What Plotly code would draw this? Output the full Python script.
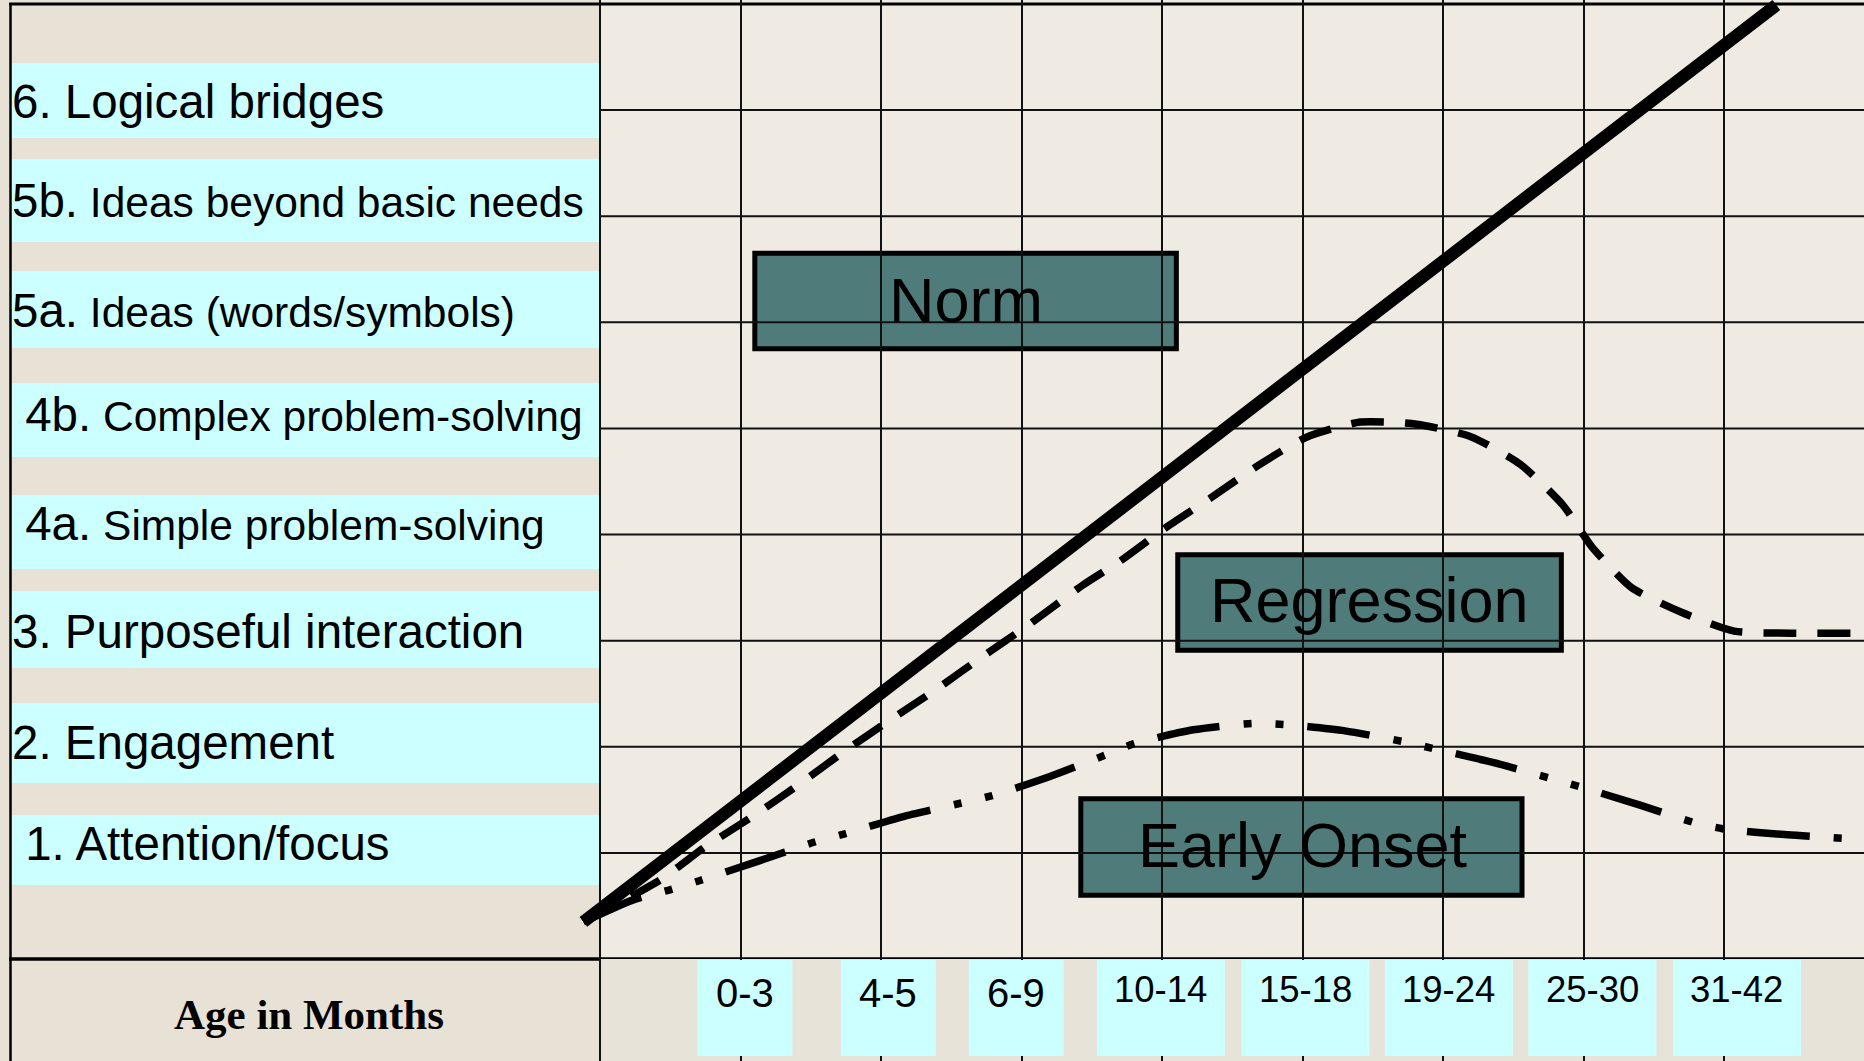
import plotly.graph_objects as go

W, H = 1864, 1061

# ---------------- data ----------------
level_labels = ["6. Logical bridges", "5b. Ideas beyond basic needs", "5a. Ideas (words/symbols)",
                "4b. Complex problem-solving", "4a. Simple problem-solving",
                "3. Purposeful interaction", "2. Engagement", "1. Attention/focus"]
age_bins = ["0-3", "4-5", "6-9", "10-14", "15-18", "19-24", "25-30", "31-42"]

norm_x = [-0.12, 8.37]
norm_y = [0.35, 8.99]

regression_x = [-0.12, 0.42, 0.75, 1.08, 1.42, 1.73, 2.06, 2.39, 2.72, 3.05, 3.43, 3.70, 4.03, 4.35,
                4.68, 5.03, 5.41, 5.81, 6.20, 6.55, 6.85, 7.06, 7.34, 7.69, 8.07, 8.47, 9.00]
regression_y = [0.35, 0.74, 1.06, 1.34, 1.65, 1.95, 2.25, 2.54, 2.85, 3.15, 3.52, 3.75, 4.07, 4.35,
                4.65, 4.92, 5.06, 5.04, 4.92, 4.66, 4.28, 3.88, 3.50, 3.27, 3.09, 3.07, 3.07]

early_x = [-0.12, 0.23, 0.49, 0.71, 1.12, 1.52, 1.74, 2.15, 2.57, 2.79, 3.20, 3.59, 3.80, 4.22,
           4.64, 4.87, 5.30, 5.71, 5.94, 6.36, 6.77, 6.98, 7.40, 7.80, 8.02, 8.45, 8.92]
early_y = [0.35, 0.555, 0.65, 0.74, 0.92, 1.10, 1.18, 1.34, 1.47, 1.54, 1.72, 1.92, 2.03, 2.16,
           2.22, 2.21, 2.15, 2.05, 1.98, 1.85, 1.70, 1.62, 1.45, 1.28, 1.22, 1.17, 1.13]

series_names = ["Norm", "Regression", "Early Onset"]

level_rows = list(range(1, 9))     # horizontal grid rows
age_cols = list(range(0, 9))       # vertical grid columns

# ---------------- layout constants ----------------
X0PX, XSTEP = 600.26, 140.51      # pixel of x=0, pixels per age column
Y0PX, YSTEP = 959.0, 106.11       # pixel of y=0, pixels per level row
XR = [-X0PX / XSTEP, (W - X0PX) / XSTEP]
YR = [-(H - Y0PX) / YSTEP, Y0PX / YSTEP]

def pxx(p):
    return p / W

def pxy(p):
    return 1 - p / H

LEFT_BG = "#E7E1D6"
GRID_BG = "#EFEBE3"
BOTTOM_BG = "#E8E3D9"
CYAN = "#CCFFFF"
TEAL = "#4F7B7B"
GRID = "#111111"
FONT = "Liberation Sans, Arial, sans-serif"

# left label boxes (pixel top, bottom) and text centre
label_box = [(63, 138), (159, 242), (271, 348), (383, 457), (495, 569), (591, 668), (703, 783), (815, 885)]
label_text_cy = [101.5, 200.5, 310.5, 414.5, 523.5, 631, 742.5, 843]
label_small_rest = [False, True, True, True, True, False, False, False]
label_indent = [False, False, False, True, True, False, False, True]
BIG, SMALL = 47.5, 42.5

# age label boxes
age_pos = [1.03, 2.05, 2.96, 3.99, 5.02, 6.04, 7.06, 8.09]
age_box_w = [95, 95, 95, 128, 128, 128, 128, 128]
age_font = [40, 40, 40, 36.5, 36.5, 36.5, 36.5, 36.5]
age_text_cy = [993, 993, 993, 989.5, 989.5, 989.5, 989.5, 989.5]

# series name boxes in data coords (x0, x1, y0, y1)
name_box = [(1.10, 4.10, 5.75, 6.65), (4.11, 6.84, 2.91, 3.81), (3.42, 6.56, 0.60, 1.51)]
name_text = [(2.60, 6.21), (5.475, 3.38), (5.0, 1.07)]

fig = go.Figure()

fig.add_trace(go.Scatter(x=norm_x, y=norm_y, mode="lines", name=series_names[0],
                         line=dict(color="black", width=12.5), hoverinfo="skip"))
fig.add_trace(go.Scatter(x=regression_x, y=regression_y, mode="lines", name=series_names[1],
                         line=dict(color="black", width=7.5, dash="33px,21px", shape="spline", smoothing=0.6),
                         hoverinfo="skip"))
fig.add_trace(go.Scatter(x=early_x, y=early_y, mode="lines", name=series_names[2],
                         line=dict(color="black", width=7.5, dash="63px,24px,8px,24px,8px,24px",
                                   shape="spline", smoothing=0.6),
                         hoverinfo="skip"))

shapes = []
# bottom row background in the grid area
shapes.append(dict(type="rect", xref="x", yref="y", x0=0, x1=XR[1], y0=YR[0], y1=0,
                   fillcolor=BOTTOM_BG, line=dict(width=0), layer="below"))
# left panel background
shapes.append(dict(type="rect", xref="paper", yref="paper", x0=0, x1=pxx(600), y0=0, y1=1,
                   fillcolor=LEFT_BG, line=dict(width=0), layer="below"))
# cyan label boxes
for (t, b) in label_box:
    shapes.append(dict(type="rect", xref="paper", yref="paper", x0=pxx(11), x1=pxx(600),
                       y0=pxy(b), y1=pxy(t), fillcolor=CYAN, line=dict(width=0), layer="below"))
# teal name boxes (below the grid lines)
for (x0, x1, y0, y1) in name_box:
    shapes.append(dict(type="rect", xref="x", yref="y", x0=x0, x1=x1, y0=y0, y1=y1,
                       fillcolor=TEAL, line=dict(color="black", width=5), layer="below"))
# horizontal grid rows (only across the grid area)
for k in level_rows:
    shapes.append(dict(type="line", xref="x", yref="y", x0=0, x1=XR[1], y0=k, y1=k,
                       line=dict(color=GRID, width=2), layer="below"))
# frame lines
shapes.append(dict(type="line", xref="paper", yref="y", x0=pxx(9), x1=1, y0=9, y1=9,
                   line=dict(color="black", width=3), layer="below"))
shapes.append(dict(type="line", xref="paper", yref="y", x0=pxx(9), x1=1, y0=0, y1=0,
                   line=dict(color="black", width=3.5), layer="below"))
shapes.append(dict(type="line", xref="paper", yref="paper", x0=pxx(10.5), x1=pxx(10.5), y0=0, y1=pxy(3),
                   line=dict(color="black", width=2.5), layer="below"))
# age label boxes (cover the vertical grid lines)
for c, w in zip(age_pos, age_box_w):
    shapes.append(dict(type="rect", xref="x", yref="y", x0=c - w / 2 / XSTEP, x1=c + w / 2 / XSTEP,
                       y0=(Y0PX - 1056) / YSTEP, y1=(Y0PX - 960) / YSTEP,
                       fillcolor=CYAN, line=dict(width=0), layer="above"))

annotations = []
for i, lab in enumerate(level_labels):
    num, rest = lab.split(" ", 1)
    if label_small_rest[i]:
        txt = num + '<span style="font-size:%spx"> %s</span>' % (SMALL, rest)
    else:
        txt = lab
    if label_indent[i]:
        txt = "\u00a0" + txt
    annotations.append(dict(text=txt, xref="paper", yref="paper", x=pxx(11), y=pxy(label_text_cy[i]),
                            xanchor="left", yanchor="middle", showarrow=False, borderpad=0,
                            font=dict(family=FONT, size=BIG, color="black")))
annotations.append(dict(text="<b>Age in Months</b>", xref="paper", yref="paper", x=pxx(309), y=pxy(1014),
                        xanchor="center", yanchor="middle", showarrow=False,
                        font=dict(family="Liberation Serif, Times New Roman, serif", size=43, color="black")))
for lab, c, fs, cy in zip(age_bins, age_pos, age_font, age_text_cy):
    annotations.append(dict(text=lab, xref="x", yref="y", x=c, y=(Y0PX - cy) / YSTEP,
                            xanchor="center", yanchor="middle", showarrow=False, borderpad=0,
                            font=dict(family=FONT, size=fs, color="black")))
for name, (tx, ty) in zip(series_names, name_text):
    annotations.append(dict(text=name, xref="x", yref="y", x=tx, y=ty, xanchor="center", yanchor="middle",
                            showarrow=False, borderpad=0, font=dict(family=FONT, size=63, color="black")))

fig.update_layout(
    width=W, height=H, margin=dict(l=0, r=0, t=0, b=0),
    paper_bgcolor=LEFT_BG, plot_bgcolor=GRID_BG, showlegend=False,
    shapes=shapes, annotations=annotations,
    xaxis=dict(range=XR, domain=[0, 1], tickvals=age_cols, showticklabels=False, ticks="",
               showgrid=True, gridcolor=GRID, gridwidth=2, zeroline=False, showline=False,
               fixedrange=True),
    yaxis=dict(range=YR, domain=[0, 1], tickvals=level_rows, showticklabels=False, ticks="",
               showgrid=False, zeroline=False, showline=False, fixedrange=True),
)

fig.write_html("out.html", config={"displayModeBar": False},
               post_script="document.body.style.margin='0';document.body.style.overflow='hidden';")
